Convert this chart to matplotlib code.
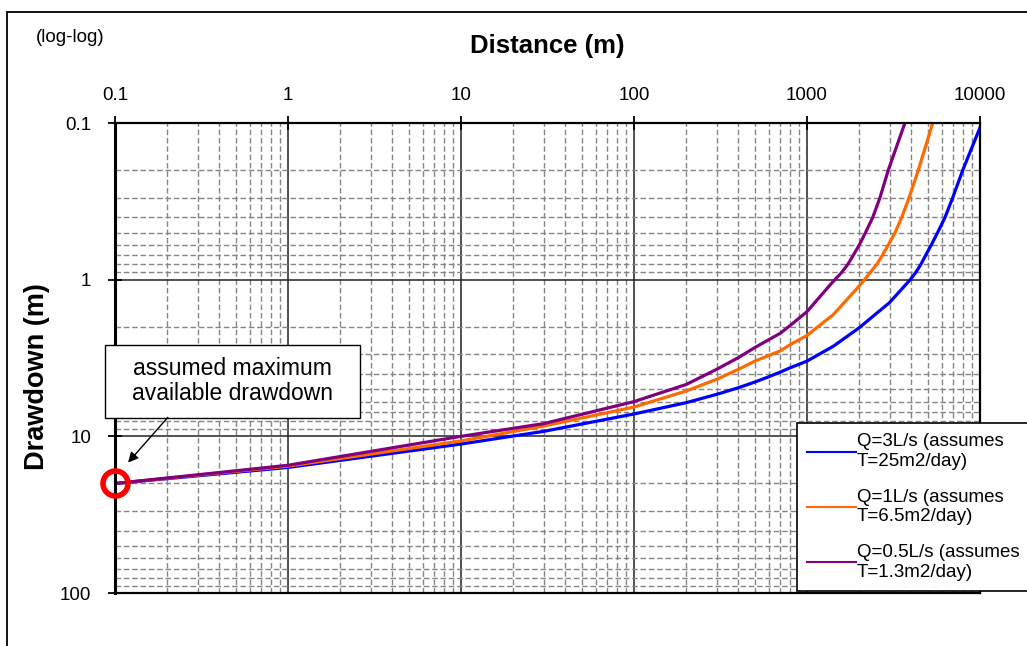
import matplotlib.pyplot as plt
from matplotlib.patches import Rectangle

plt.rcParams['font.family'] = ['Liberation Sans', 'DejaVu Sans']

# distance (m) vs drawdown (m)
dist_q3 = [0.1, 1, 10, 30, 100, 200, 300, 400, 500, 600, 700, 800, 1000, 1420, 2000,
           3000, 3950, 4250, 4550, 4850, 5230, 5690, 6280, 6950, 7950, 10000]
dd_q3 = [20, 15.8, 11.2, 9.3, 7.2, 6.1, 5.4, 4.9, 4.5, 4.17, 3.89, 3.65, 3.31, 2.66, 2.03,
         1.4, 1.0, 0.9, 0.8, 0.7, 0.6, 0.5, 0.4, 0.3, 0.2, 0.107]

dist_q1 = [0.1, 1, 10, 30, 100, 200, 300, 400, 500, 600, 700, 800, 1000, 1420, 2000,
           2150, 2320, 2530, 2725, 2950, 3230, 3530, 3890, 4400, 5330]
dd_q1 = [20, 15.5, 10.7, 8.6, 6.5, 5.14, 4.33, 3.74, 3.31, 3.05, 2.85, 2.6, 2.27, 1.67, 1.1,
         1.0, 0.9, 0.8, 0.7, 0.6, 0.5, 0.4, 0.3, 0.2, 0.1]

dist_q05 = [0.1, 1, 10, 30, 100, 200, 300, 400, 500, 600, 700, 800, 1000, 1360,
            1450, 1585, 1720, 1850, 2005, 2180, 2400, 2640, 2950, 3680]
dd_q05 = [20, 15.3, 10.0, 8.3, 6.0, 4.67, 3.74, 3.15, 2.71, 2.42, 2.2, 1.96, 1.6, 1.08,
          1.0, 0.9, 0.8, 0.7, 0.6, 0.5, 0.4, 0.3, 0.2, 0.1]

labels = ["Q=3L/s (assumes\nT=25m2/day)",
          "Q=1L/s (assumes\nT=6.5m2/day)",
          "Q=0.5L/s (assumes\nT=1.3m2/day)"]
colors = ["#0000FF", "#FF6A00", "#800080"]

max_dist = 0.1
max_dd = 20

fig = plt.figure(figsize=(10.27, 6.46), dpi=100)
ax = fig.add_axes([115/1027, 1-593/646, 865/1027, 470/646])

ax.plot(dist_q3, dd_q3, color=colors[0], lw=2.3, label=labels[0])
ax.plot(dist_q1, dd_q1, color=colors[1], lw=2.3, label=labels[1])
ax.plot(dist_q05, dd_q05, color=colors[2], lw=2.3, label=labels[2])
ax.plot([max_dist], [max_dd], 'o', mfc='none', mec='red', ms=18, mew=4,
        clip_on=False, zorder=5)

ax.set_xscale('log')
ax.set_yscale('log')
ax.set_xlim(0.1, 10000)
ax.set_ylim(100, 0.1)

ax.xaxis.tick_top()
ax.xaxis.set_label_position('top')
ax.set_xticks([0.1, 1, 10, 100, 1000, 10000])
ax.set_xticklabels(["0.1", "1", "10", "100", "1000", "10000"])
ax.set_yticks([0.1, 1, 10, 100])
ax.set_yticklabels(["0.1", "1", "10", "100"])
ax.tick_params(which='major', direction='inout', length=10, width=1.3,
               labelsize=13.5, pad=12)
ax.tick_params(axis='x', pad=9)
ax.tick_params(which='minor', length=0)

ax.grid(which='major', color='#222222', lw=1.1, ls='-')
ax.grid(which='minor', color='#858585', lw=1.0, ls=(0, (4, 2)))
ax.set_axisbelow(True)
for s in ax.spines.values():
    s.set_linewidth(1.6)
ax.spines['left'].set_linewidth(2.2)

ax.set_xlabel("Distance (m)", fontsize=18.5, fontweight='bold', labelpad=24)
fig.text(37/1027, 1-377/646, "Drawdown (m)", rotation=90, fontsize=19.5,
         fontweight='bold', ha='center', va='center')
fig.text(36/1027, 1-38/646, "(log-log)", fontsize=13.5, ha='left', va='center')

# note box with arrow to the red circle
ax.add_patch(Rectangle((105/1027, 1-418/646), 255/1027, 73/646, fc='white',
                       ec='black', lw=1, transform=fig.transFigure,
                       clip_on=False, zorder=6))
ax.text(232/1027, 1-381/646, "assumed maximum\navailable drawdown",
        transform=fig.transFigure, fontsize=16.5, ha='center', va='center',
        linespacing=1.15, zorder=7)
ax.annotate("", xy=(0.119, 14.7), xytext=(0.202, 7.57), zorder=7,
            arrowprops=dict(arrowstyle='-|>', color='black', lw=1,
                            mutation_scale=15, shrinkA=0, shrinkB=0))

leg = ax.legend(loc='upper left', bbox_to_anchor=(797/1027, 1-423/646),
                bbox_transform=fig.transFigure, borderaxespad=0,
                fontsize=13.5, frameon=True, fancybox=False, framealpha=1,
                edgecolor='black', handlelength=2.6, handletextpad=0.05,
                labelspacing=1.0, borderpad=0.55)
leg.get_frame().set_linewidth(1.2)
for ln in leg.get_lines():
    ln.set_linewidth(1.5)

fig.add_artist(Rectangle((7/1027, -0.1), 1.2, 1-12/646+0.1, fill=False,
                         ec='black', lw=1.3, transform=fig.transFigure))

fig.savefig("out.png", dpi=100)
